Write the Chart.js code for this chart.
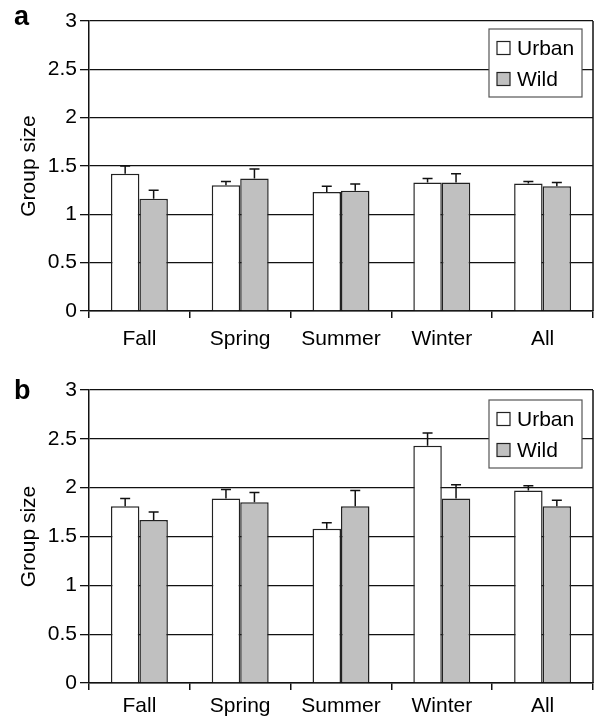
<!DOCTYPE html>
<html>
<head>
<meta charset="utf-8">
<script src="https://cdn.jsdelivr.net/npm/chart.js@4.4.0/dist/chart.umd.min.js"></script>
<style>
  body { margin: 0; background: #fff; }
  .panel { position: absolute; left: 0; width: 595px; }
  .tag { position: absolute; left: 14px; font: bold 27px "Liberation Sans", Arial, sans-serif; color: #000; }
</style>
</head>
<body>
<div class="panel" style="top:0;height:360px">
  <canvas id="chartA" width="595" height="360"></canvas>
  <div class="tag" style="top:1px">a</div>
</div>
<div class="panel" style="top:360px;height:359px">
  <canvas id="chartB" width="595" height="359"></canvas>
  <div class="tag" style="top:15px">b</div>
</div>
<script>
var categories = ["Fall", "Spring", "Summer", "Winter", "All"];
var seriesNames = ["Urban", "Wild"];
var yTickLabels = ["0", "0.5", "1", "1.5", "2", "2.5", "3"];

// panel a
var urbanA    = [1.42, 1.30, 1.23, 1.33, 1.32];
var urbanErrA = [0.08, 0.04, 0.06, 0.04, 0.02];
var wildA     = [1.16, 1.37, 1.245, 1.33, 1.29];
var wildErrA  = [0.09, 0.10, 0.07, 0.09, 0.04];

// panel b
var urbanB    = [1.81, 1.89, 1.58, 2.43, 1.97];
var urbanErrB = [0.08, 0.09, 0.06, 0.13, 0.05];
var wildB     = [1.67, 1.85, 1.81, 1.89, 1.81];
var wildErrB  = [0.08, 0.10, 0.16, 0.14, 0.06];

var FONT = '"Liberation Sans", Arial, sans-serif';

// error bars (upper only), right frame line and the boxed legend
var extras = {
    id: "extras",
    afterDatasetsDraw: function(chart) {
        var ctx = chart.ctx;
        var y = chart.scales.y;
        var area = chart.chartArea;
        ctx.save();
        ctx.strokeStyle = "#111";
        ctx.lineWidth = 1.5;
        chart.data.datasets.forEach(function(ds, i) {
            var meta = chart.getDatasetMeta(i);
            meta.data.forEach(function(bar, j) {
                var top = y.getPixelForValue(ds.data[j] + ds.errors[j]);
                ctx.beginPath();
                ctx.moveTo(bar.x, bar.y);
                ctx.lineTo(bar.x, top);
                ctx.moveTo(bar.x - 5, top);
                ctx.lineTo(bar.x + 5, top);
                ctx.stroke();
            });
        });
        // right frame
        ctx.beginPath();
        ctx.moveTo(area.right, area.top);
        ctx.lineTo(area.right, area.bottom);
        ctx.stroke();

        // legend box
        var bw = 93, bh = 68;
        var bx = area.right - 11 - bw;
        var by = area.top + chart.options.legendTop;
        ctx.fillStyle = "#fff";
        ctx.fillRect(bx, by, bw, bh);
        ctx.strokeStyle = "#555";
        ctx.lineWidth = 1.2;
        ctx.strokeRect(bx, by, bw, bh);
        ctx.font = "21px " + FONT;
        ctx.textBaseline = "middle";
        chart.data.datasets.forEach(function(ds, i) {
            var cy = by + 19 + i * 31;
            ctx.fillStyle = ds.backgroundColor;
            ctx.fillRect(bx + 8, cy - 6.5, 13, 13);
            ctx.strokeStyle = "#222";
            ctx.lineWidth = 1.2;
            ctx.strokeRect(bx + 8, cy - 6.5, 13, 13);
            ctx.fillStyle = "#000";
            ctx.fillText(ds.label, bx + 28, cy + 1);
        });
        ctx.restore();
    }
};

function makeChart(id, urban, urbanErr, wild, wildErr, padTop, xHeight, xPad, legendTop) {
    return new Chart(document.getElementById(id), {
        type: "bar",
        data: {
            labels: categories,
            datasets: [
                { label: seriesNames[0], data: urban, errors: urbanErr, backgroundColor: "#ffffff",
                  borderColor: "#222", borderWidth: 1.5 },
                { label: seriesNames[1], data: wild, errors: wildErr, backgroundColor: "#c0c0c0",
                  borderColor: "#222", borderWidth: 1.5 }
            ]
        },
        options: {
            responsive: false,
            animation: false,
            devicePixelRatio: 1,
            legendTop: legendTop,
            categoryPercentage: 0.565,
            barPercentage: 1.0,
            layout: { padding: { top: padTop, right: 2, left: 0, bottom: 0 } },
            plugins: { legend: { display: false }, tooltip: { enabled: false } },
            scales: {
                x: {
                    grid: { display: true, offset: true, drawOnChartArea: false, color: "#111",
                            tickLength: 7, lineWidth: 1.5 },
                    border: { display: true, color: "#111", width: 1.5 },
                    ticks: { color: "#000", font: { family: FONT, size: 21 }, padding: xPad },
                    afterFit: function(s) { s.height = xHeight; }
                },
                y: {
                    min: 0, max: 3,
                    grid: { color: "#111", lineWidth: 1.3, tickLength: 9 },
                    border: { display: true, color: "#111", width: 1.5 },
                    ticks: { stepSize: 0.5, color: "#000", font: { family: FONT, size: 21 }, padding: 3,
                             callback: function(v, i) { return yTickLabels[i]; } },
                    title: { display: true, text: "Group size", color: "#000",
                             font: { family: FONT, size: 21 }, padding: { top: 17, bottom: 0 } },
                    afterFit: function(s) { s.width = 89; }
                }
            }
        },
        plugins: [extras]
    });
}

makeChart("chartA", urbanA, urbanErrA, wildA, wildErrA, 21, 49, 9, 8);
makeChart("chartB", urbanB, urbanErrB, wildB, wildErrB, 30, 36, 4, 10);
</script>
</body>
</html>
